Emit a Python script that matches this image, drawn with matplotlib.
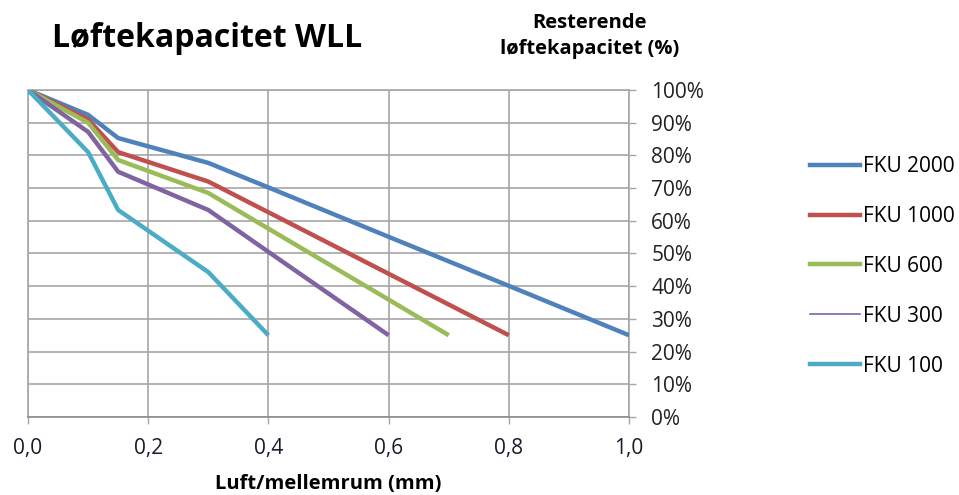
import matplotlib.pyplot as plt
from matplotlib.ticker import FuncFormatter, MultipleLocator
from matplotlib.lines import Line2D

plt.rcParams['font.family'] = ['Open Sans', 'DejaVu Sans']

series = ['FKU 2000', 'FKU 1000', 'FKU 600', 'FKU 300', 'FKU 100']
colors = ['#4F81BD', '#C0504D', '#9BBB59', '#8064A2', '#4BACC6']

x_2000 = [0.0, 0.1, 0.15, 0.3, 0.4, 0.6, 0.8, 1.0]
y_2000 = [100, 92.4, 85.3, 77.7, 70.2, 55.1, 40.1, 25]
x_1000 = [0.0, 0.1, 0.15, 0.3, 0.4, 0.6, 0.8]
y_1000 = [100, 91, 81, 72, 62.6, 43.8, 25]
x_600 = [0.0, 0.1, 0.15, 0.3, 0.4, 0.6, 0.7]
y_600 = [100, 90, 78.6, 68.5, 57.6, 35.9, 25]
x_300 = [0.0, 0.1, 0.15, 0.3, 0.4, 0.6]
y_300 = [100, 87.2, 75, 63.3, 50.5, 25]
x_100 = [0.0, 0.1, 0.15, 0.3, 0.4]
y_100 = [100, 81, 63.3, 44.3, 25]

xs = [x_2000, x_1000, x_600, x_300, x_100]
ys = [y_2000, y_1000, y_600, y_300, y_100]

fig = plt.figure(figsize=(9.59, 4.95), dpi=100)
ax = fig.add_axes([0.0292, 0.1576, 0.6267, 0.6606])

grid_c = '#A6A6A6'
for xv, yv, c, name in zip(xs, ys, colors, series):
    ax.plot(xv, yv, color=c, lw=3.2, label=name, solid_capstyle='butt', zorder=3)

ax.set_xlim(0, 1.0)
ax.set_ylim(0, 100)
ax.xaxis.set_major_locator(MultipleLocator(0.2))
ax.yaxis.set_major_locator(MultipleLocator(10))
ax.xaxis.set_major_formatter(FuncFormatter(lambda v, p: f"{v:.1f}".replace('.', ',')))
ax.yaxis.set_major_formatter(FuncFormatter(lambda v, p: f"{v:.0f}%"))
ax.yaxis.tick_right()
ax.tick_params(axis='y', direction='out', length=5, width=1, color=grid_c,
               pad=11, labelsize=15, labelcolor='#222222')
ax.tick_params(axis='x', direction='out', length=5, width=1, color=grid_c,
               pad=10, labelsize=15, labelcolor='#1a1a2a')
ax.grid(True, color=grid_c, lw=1.2)
for s in ax.spines.values():
    s.set_color(grid_c)
    s.set_linewidth(1.2)
ax.spines['bottom'].set_color('#8c8c8c')

fig.text(0.054, 0.922, 'Løftekapacitet WLL', fontsize=23, fontweight='bold',
         ha='left', va='center')
fig.text(0.615, 0.927, 'Resterende\nløftekapacitet (%)', fontsize=14.5,
         fontweight='bold', ha='center', va='center', linespacing=1.4)
fig.text(0.342, 0.022, 'Luft/mellemrum (mm)', fontsize=14.5, fontweight='bold',
         ha='center', va='center')

handles = []
for c, name in zip(colors, series):
    w = 1.2 if name == 'FKU 300' else 3.2
    handles.append(Line2D([0], [0], color=c, lw=w))
fig.legend(handles, series, loc='upper left', bbox_to_anchor=(0.825, 0.723),
           frameon=False, fontsize=15, handlelength=2.4, handletextpad=0.15,
           labelspacing=1.39)

fig.savefig('out.png', dpi=100)
